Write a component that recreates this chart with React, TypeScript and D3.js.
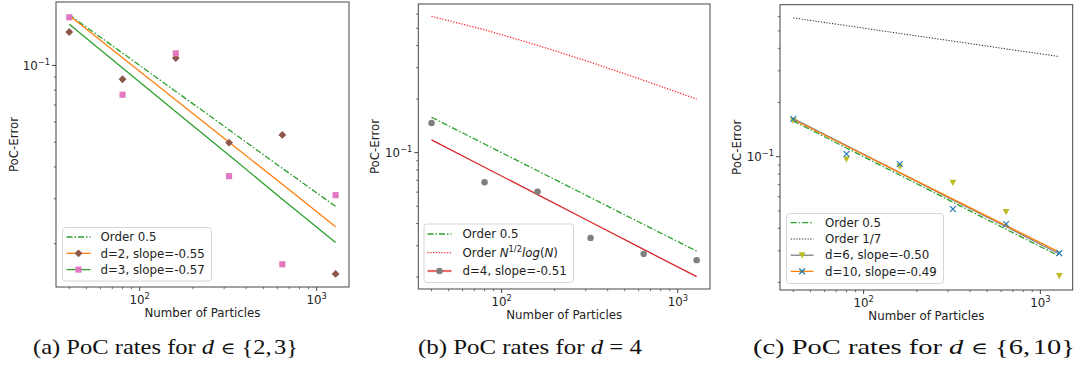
import React from "react";
import * as d3 from "d3";

// ---------- data ----------
const particles = [40, 80, 160, 320, 640, 1280];

// panel (a)
const d2Errors = [0.1353, 0.0883, 0.107, 0.0498, 0.0534, 0.01522];
const d3Errors = [0.1545, 0.0768, 0.1116, 0.0368, 0.0166, 0.031];
const d2Fit = [0.157, 0.1072, 0.0732, 0.05, 0.0342, 0.0233];
const d3Fit = [0.1451, 0.0978, 0.0659, 0.0444, 0.0299, 0.0202];

// order reference lines
const order05 = [0.1581, 0.1118, 0.0791, 0.0559, 0.0395, 0.028];
const orderSqrtLog = [0.583, 0.49, 0.401, 0.322, 0.255, 0.2];
const order17 = [0.59, 0.535, 0.484, 0.439, 0.397, 0.36];

// panel (b)
const d4Errors = [0.1469, 0.0682, 0.0604, 0.0332, 0.027, 0.0249];
const d4Fit = [0.1179, 0.0828, 0.0581, 0.0408, 0.0286, 0.0201];

// panel (c)
const d6Errors = [0.1585, 0.0967, 0.088, 0.0717, 0.0493, 0.02174];
const d10Errors = [0.162, 0.1035, 0.0911, 0.0512, 0.0423, 0.0291];
const d6Fit = [0.163, 0.1153, 0.0815, 0.0576, 0.0408, 0.0288];
const d10Fit = [0.161, 0.1146, 0.0816, 0.0581, 0.0414, 0.0295];

const xDomain = [33.65, 1524];
const yDomains = [
  [0.01352, 0.1774],
  [0.01714, 0.684],
  [0.01817, 0.699],
];
const xTickLabels = ["2", "3"];
const captions = ["(a)", "(b)", "(c)"];

// ---------- styling ----------
const FONT = "DejaVu Sans, sans-serif";
const FS = 11.8;
const C = {
  green: "#2ca02c",
  orange: "#ff7f0e",
  brown: "#8c564b",
  pink: "#e377c2",
  gray: "#7f7f7f",
  red: "#d62728",
  olive: "#bcbd22",
  blue: "#1f77b4",
};
const DASHDOT = "6,2,1.5,2";
const DOTTED = "1.2,1.6";

type Marker = "diamond" | "square" | "circle" | "tri" | "x";

function MarkerShape({ cx, cy, type, color, s = 3.4 }: { cx: number; cy: number; type: Marker; color: string; s?: number }) {
  if (type === "diamond")
    return <path d={`M${cx},${cy - s * 1.15}L${cx + s * 1.15},${cy}L${cx},${cy + s * 1.15}L${cx - s * 1.15},${cy}Z`} fill={color} />;
  if (type === "square") return <rect x={cx - s * 0.9} y={cy - s * 0.9} width={s * 1.8} height={s * 1.8} fill={color} />;
  if (type === "circle") return <circle cx={cx} cy={cy} r={s * 0.95} fill={color} />;
  if (type === "tri")
    return <path d={`M${cx - s},${cy - s * 0.85}L${cx + s},${cy - s * 0.85}L${cx},${cy + s * 0.95}Z`} fill={color} />;
  return (
    <path
      d={`M${cx - s * 0.85},${cy - s * 0.85}L${cx + s * 0.85},${cy + s * 0.85}M${cx - s * 0.85},${cy + s * 0.85}L${cx + s * 0.85},${cy - s * 0.85}`}
      stroke={color}
      strokeWidth={1.2}
      fill="none"
    />
  );
}

type LineSpec = { values: number[]; color: string; dash?: string; width?: number };
type PointSpec = { values: number[]; color: string; marker: Marker };
type LegendEntry = { label: React.ReactNode; color: string; dash?: string; width?: number; marker?: Marker; markerColor?: string };

type PanelSpec = {
  box: [number, number, number, number]; // x0, x1, y0, y1
  yDomain: number[];
  lines: LineSpec[];
  points: PointSpec[];
  legend: { x0: number; x1: number; y0: number; y1: number; rows: number[]; hx0: number; hx1: number; tx: number; entries: LegendEntry[] };
  yLabelX: number;
};

function Panel({ p }: { p: PanelSpec }) {
  const [x0, x1, y0, y1] = p.box;
  const x = d3.scaleLog().domain(xDomain).range([x0, x1]);
  const y = d3.scaleLog().domain(p.yDomain).range([y1, y0]);
  const line = d3
    .line<number>()
    .x((_, i) => x(particles[i]))
    .y((v) => y(v));

  const xMinor: number[] = [];
  for (const dec of [10, 100, 1000]) for (let k = 2; k <= 9; k++) {
    const v = dec * k;
    if (v >= xDomain[0] && v <= xDomain[1]) xMinor.push(v);
  }
  const yMinor: number[] = [];
  for (const dec of [0.01, 0.1]) for (let k = 2; k <= 9; k++) {
    const v = dec * k;
    if (v >= p.yDomain[0] && v <= p.yDomain[1]) yMinor.push(v);
  }
  const tickColor = "#333";
  const L = p.legend;
  return (
    <g>
      {p.lines.map((l, i) => (
        <path key={"l" + i} d={line(l.values) || ""} fill="none" stroke={l.color} strokeWidth={l.width ?? 1.3} strokeDasharray={l.dash} />
      ))}
      {p.points.map((s, i) =>
        s.values.map((v, j) => <MarkerShape key={"p" + i + "_" + j} cx={x(particles[j])} cy={y(v)} type={s.marker} color={s.color} />)
      )}
      <rect x={x0} y={y0} width={x1 - x0} height={y1 - y0} fill="none" stroke="#444" strokeWidth={1} />
      {[100, 1000].map((v, i) => (
        <g key={"xt" + v}>
          <line x1={x(v)} x2={x(v)} y1={y1} y2={y1 + 4} stroke={tickColor} strokeWidth={0.9} />
          <text x={x(v)} y={y1 + 17} fontFamily={FONT} fontSize={FS} textAnchor="middle" fill="#222">
            10<tspan dy={-5} fontSize={FS * 0.7}>{xTickLabels[i]}</tspan>
          </text>
        </g>
      ))}
      {xMinor.map((v) => (
        <line key={"xm" + v} x1={x(v)} x2={x(v)} y1={y1} y2={y1 + 2.2} stroke={tickColor} strokeWidth={0.7} />
      ))}
      <line x1={x0 - 4} x2={x0} y1={y(0.1)} y2={y(0.1)} stroke={tickColor} strokeWidth={0.9} />
      <text x={x0 - 6} y={y(0.1) + 4.5} fontFamily={FONT} fontSize={FS} textAnchor="end" fill="#222">
        10<tspan dy={-5} fontSize={FS * 0.7}>−1</tspan>
      </text>
      {yMinor.map((v) => (
        <line key={"ym" + v} x1={x0 - 2.2} x2={x0} y1={y(v)} y2={y(v)} stroke={tickColor} strokeWidth={0.7} />
      ))}
      <text x={(x0 + x1) / 2} y={y1 + 30} fontFamily={FONT} fontSize={FS} textAnchor="middle" fill="#222">
        Number of Particles
      </text>
      <text
        transform={`translate(${p.yLabelX},${(y0 + y1) / 2}) rotate(-90)`}
        fontFamily={FONT}
        fontSize={FS}
        textAnchor="middle"
        dominantBaseline="central"
        fill="#222"
      >
        PoC-Error
      </text>
      <rect x={L.x0} y={L.y0} width={L.x1 - L.x0} height={L.y1 - L.y0} rx={3} fill="#fff" fillOpacity={0.8} stroke="#d6d6d6" strokeWidth={1} />
      {L.entries.map((e, i) => (
        <g key={"lg" + i}>
          <line x1={L.hx0} x2={L.hx1} y1={L.rows[i]} y2={L.rows[i]} stroke={e.color} strokeWidth={e.width ?? 1.3} strokeDasharray={e.dash} />
          {e.marker && <MarkerShape cx={(L.hx0 + L.hx1) / 2} cy={L.rows[i]} type={e.marker} color={e.markerColor || e.color} />}
          <text x={L.tx} y={L.rows[i]} dy={4.2} fontFamily={FONT} fontSize={FS} fill="#222">
            {e.label}
          </text>
        </g>
      ))}
    </g>
  );
}

const panels: PanelSpec[] = [
  {
    box: [56, 349, 2, 287],
    yDomain: yDomains[0],
    lines: [
      { values: order05, color: C.green, dash: DASHDOT },
      { values: d2Fit, color: C.orange },
      { values: d3Fit, color: C.green },
    ],
    points: [
      { values: d2Errors, color: C.brown, marker: "diamond" },
      { values: d3Errors, color: C.pink, marker: "square" },
    ],
    legend: {
      x0: 62.5, x1: 211.5, y0: 227.5, y1: 281, rows: [237, 253.3, 269.6], hx0: 66.5, hx1: 90.5, tx: 100.5,
      entries: [
        { label: "Order 0.5", color: C.green, dash: DASHDOT },
        { label: "d=2, slope=-0.55", color: C.orange, marker: "diamond", markerColor: C.brown },
        { label: "d=3, slope=-0.57", color: C.green, marker: "square", markerColor: C.pink },
      ],
    },
    yLabelX: 14,
  },
  {
    box: [418.3, 710, 4, 289],
    yDomain: yDomains[1],
    lines: [
      { values: order05, color: C.green, dash: DASHDOT },
      { values: orderSqrtLog, color: "#ff2020", dash: DOTTED },
      { values: d4Fit, color: C.red },
    ],
    points: [{ values: d4Errors, color: C.gray, marker: "circle" }],
    legend: {
      x0: 424, x1: 573.5, y0: 224, y1: 282.5, rows: [234, 252.7, 271], hx0: 427.5, hx1: 451.5, tx: 462.5,
      entries: [
        { label: "Order 0.5", color: C.green, dash: DASHDOT },
        {
          label: (
            <>
              Order <tspan fontStyle="italic">N</tspan>
              <tspan dy={-5} fontSize={FS * 0.7}>1/2</tspan>
              <tspan dy={5} fontStyle="italic">log</tspan>(<tspan fontStyle="italic">N</tspan>)
            </>
          ),
          color: "#ff2020",
          dash: DOTTED,
        },
        { label: "d=4, slope=-0.51", color: "#e86a6a", width: 2.2, marker: "circle", markerColor: C.gray },
      ],
    },
    yLabelX: 375,
  },
  {
    box: [780, 1072.7, 4.7, 290],
    yDomain: yDomains[2],
    lines: [
      { values: order05, color: C.green, dash: DASHDOT },
      { values: order17, color: "#222", dash: DOTTED, width: 1 },
      { values: d6Fit, color: C.gray },
      { values: d10Fit, color: C.orange },
    ],
    points: [
      { values: d6Errors, color: C.olive, marker: "tri" },
      { values: d10Errors, color: C.blue, marker: "x" },
    ],
    legend: {
      x0: 786.5, x1: 943.5, y0: 213.5, y1: 283.5, rows: [222.7, 239, 255.2, 271.4], hx0: 790.7, hx1: 813.5, tx: 825,
      entries: [
        { label: "Order 0.5", color: C.green, dash: DASHDOT },
        { label: "Order 1/7", color: "#222", dash: DOTTED, width: 1 },
        { label: "d=6, slope=-0.50", color: C.gray, marker: "tri", markerColor: C.olive },
        { label: "d=10, slope=-0.49", color: C.orange, marker: "x", markerColor: C.blue },
      ],
    },
    yLabelX: 737.3,
  },
];

const captionRest = [
  <>
    PoC rates for <tspan fontStyle="italic">d</tspan>
    <tspan fontFamily="DejaVu Serif, serif" fontSize={17}> ∈ </tspan>
    {"{"}2,<tspan dx={2}>3</tspan>{"}"}
  </>,
  <>
    PoC rates for <tspan fontStyle="italic">d</tspan> = 4
  </>,
  <>
    PoC rates for <tspan fontStyle="italic">d</tspan>
    <tspan fontFamily="DejaVu Serif, serif" fontSize={17}> ∈ </tspan>
    {"{"}6,<tspan dx={2}>10</tspan>{"}"}
  </>,
];
const captionX = [165.5, 530, 914];
const captionWidth = [265, 224, 322];

export default function App() {
  return (
    <svg width={1081} height={369} style={{ position: "absolute", left: 0, top: 0, background: "#fff" }}>
      <rect width={1081} height={369} fill="#fff" />
      {panels.map((p, i) => (
        <Panel key={i} p={p} />
      ))}
      {captions.map((c, i) => (
        <text
          key={c}
          x={captionX[i] - captionWidth[i] / 2}
          y={354}
          fontFamily="Liberation Serif, serif"
          fontSize={21}
          textLength={captionWidth[i]}
          lengthAdjust="spacingAndGlyphs"
          fill="#111"
        >
          {c} {captionRest[i]}
        </text>
      ))}
    </svg>
  );
}
